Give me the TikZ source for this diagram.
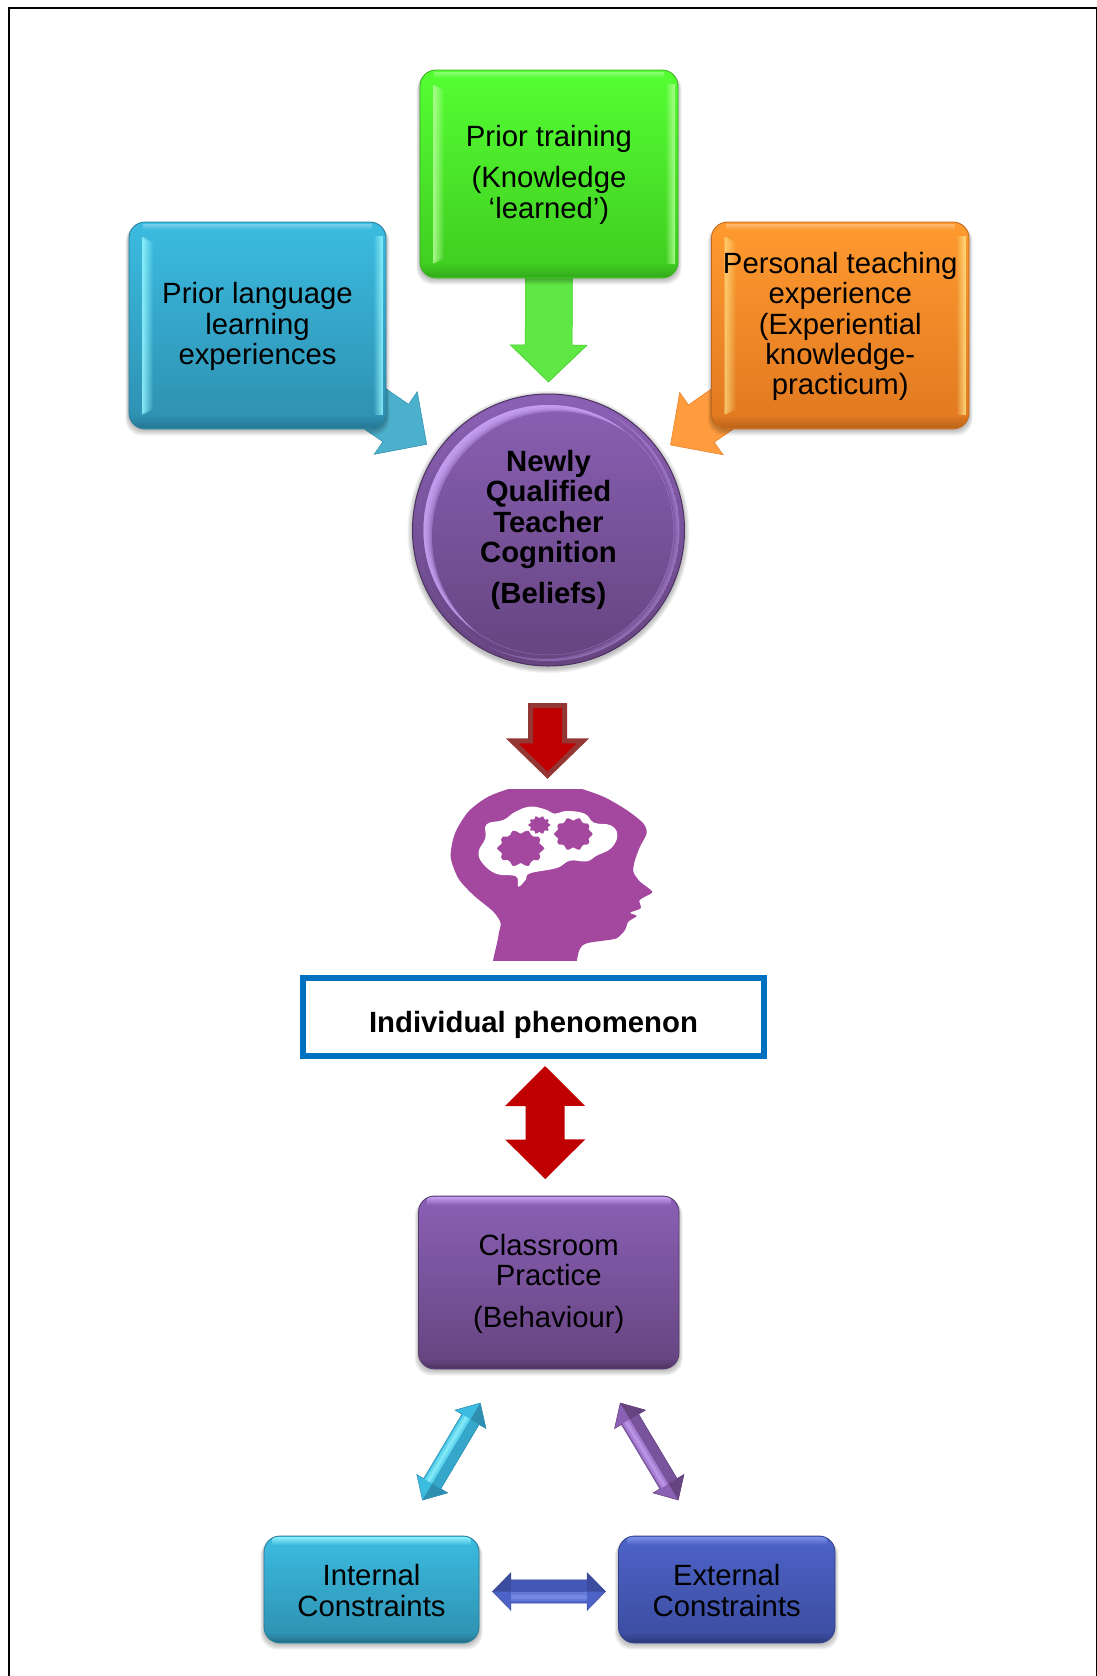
\documentclass[tikz,border=0pt]{standalone}
\usepackage{fontspec}
\setmainfont{Liberation Sans}
\usetikzlibrary{calc}
\pgfdeclarelayer{arrowlayer}
\pgfdeclarelayer{boxlayer}
\pgfsetlayers{arrowlayer,boxlayer,main}
\definecolor{greenT}{HTML}{55FF33}\definecolor{greenB}{HTML}{3FCB20}\definecolor{greenH}{HTML}{B8FF9A}\definecolor{greenA}{HTML}{5FE845}
\definecolor{blueT}{HTML}{3BBCE0}\definecolor{blueB}{HTML}{2E8FB0}\definecolor{blueH}{HTML}{96F6FF}\definecolor{blueA}{HTML}{4BB0CC}
\definecolor{oranT}{HTML}{FF9A30}\definecolor{oranB}{HTML}{E07820}\definecolor{oranH}{HTML}{FFE48A}\definecolor{oranA}{HTML}{FF9C40}
\definecolor{purpT}{HTML}{8A60B5}\definecolor{purpB}{HTML}{65447F}\definecolor{purpH}{HTML}{CBA5F7}
\definecolor{indgT}{HTML}{4D63C8}\definecolor{indgB}{HTML}{3B4C9F}\definecolor{indgH}{HTML}{8095E8}
\definecolor{headc}{HTML}{A3489E}
\definecolor{redf}{HTML}{C00000}
\definecolor{redl}{HTML}{943634}
\definecolor{framb}{HTML}{0070C0}
\tikzset{
  boxtext/.style={shape=rectangle,inner sep=0pt,outer sep=0pt,align=center,text=black,
    font=\fontsize{29.3}{30.4}\selectfont},
  boldtext/.style={boxtext,font=\fontsize{29.3}{30.4}\selectfont\bfseries},
}
% shadow, body and outline of a bevelled box; the named node carries the text
\newcommand\bevelbase[9]{%
  \node[boxtext,minimum width={#4-#2},minimum height={#5-#3}] (#1) at ({(#2+#4)/2},{(#3+#5)/2+1}) {#9};
  \begin{pgfonlayer}{boxlayer}
    \foreach \i in {1,...,5}
      \fill[black,opacity=.05,rounded corners=16] ({#2-\i*.7},{#3+3}) rectangle ({#4+\i*.7},{#5+1+\i*1.1});
    \shade[top color=#6,bottom color=#7,rounded corners=16,draw=#7!85!black,line width=.8] (#2,#3) rectangle (#4,#5);
  \end{pgfonlayer}}
% box with bright side bevels
\newcommand\bevelside[9]{%
  \bevelbase{#1}{#2}{#3}{#4}{#5}{#6}{#7}{#8}{#9}
  \begin{pgfonlayer}{boxlayer}
  \begin{scope}
    \clip[rounded corners=16] (#2+.6,#3+.6) rectangle (#4-.6,#5-.6);
    \foreach \i [evaluate=\i as \op using .85*(1-\i/11)] in {0,...,10}
      \fill[#8,opacity=\op,rounded corners=2] ({#2+13+\i},{#3+15+\i/2}) rectangle ({#2+14.2+\i},{#5-15-\i/2});
    \foreach \i [evaluate=\i as \op using .8*(1-\i/9)] in {0,...,8}
      \fill[#8,opacity=\op] ({#4-4-\i},{#3+14}) rectangle ({#4-2.8-\i},{#5-14});
    \foreach \i [evaluate=\i as \op using .018*\i] in {1,...,8}
      \fill[black,opacity=\op] ({#2},{#5-14+\i*1.4}) rectangle ({#4},{#5-12.6+\i*1.4});
    \foreach \i [evaluate=\i as \op using .3*(1-\i/6)] in {0,...,5}
      \fill[white,opacity=\op] ({#2+14},{#3+1.5+\i}) rectangle ({#4-14},{#3+2.7+\i});
  \end{scope}
  \end{pgfonlayer}}
% box with a bright top bevel
\newcommand\beveltop[9]{%
  \bevelbase{#1}{#2}{#3}{#4}{#5}{#6}{#7}{#8}{#9}
  \begin{pgfonlayer}{boxlayer}
  \begin{scope}
    \clip[rounded corners=16] (#2+.6,#3+.6) rectangle (#4-.6,#5-.6);
    \foreach \i [evaluate=\i as \op using .9*(1-\i/8)] in {0,...,7}
      \fill[#8,opacity=\op] ({#2+8},{#3+1+\i}) rectangle ({#4-8},{#3+2.2+\i});
    \foreach \i [evaluate=\i as \op using .03*\i] in {1,...,7}
      \fill[black,opacity=\op] ({#2},{#5-10+\i*1.2}) rectangle ({#4},{#5-8.8+\i*1.2});
  \end{scope}
  \end{pgfonlayer}}
% corner points of a single block arrow from #1 to #2 (half shaft #3, half head #4, head length #5)
\newcommand\singlepts[5]{%
  \coordinate (hh) at ($(#2)!#5pt!(#1)$);
  \coordinate (w1) at ($(hh)!#4pt!90:(#2)$);
  \coordinate (w2) at ($(hh)!#4pt!-90:(#2)$);
  \coordinate (n1) at ($(hh)!#3pt!90:(#2)$);
  \coordinate (n2) at ($(hh)!#3pt!-90:(#2)$);
  \coordinate (t1) at ($(#1)!#3pt!90:(#2)$);
  \coordinate (t2) at ($(#1)!#3pt!-90:(#2)$);}
% double bevelled arrow from #1 to #2: half shaft #3, half head #4, head length #5, base #6, light #7, dark #8
\newcommand\dblarrow[8]{%
  \coordinate (ha) at ($(#1)!#5pt!(#2)$);
  \coordinate (hb) at ($(#2)!#5pt!(#1)$);
  \coordinate (a1) at ($(ha)!#4pt!90:(#2)$);
  \coordinate (a2) at ($(ha)!#4pt!-90:(#2)$);
  \coordinate (b1) at ($(hb)!#4pt!-90:(#1)$);
  \coordinate (b2) at ($(hb)!#4pt!90:(#1)$);
  \coordinate (c1) at ($(ha)!#3pt!90:(#2)$);
  \coordinate (c2) at ($(ha)!#3pt!-90:(#2)$);
  \coordinate (d1) at ($(hb)!#3pt!-90:(#1)$);
  \coordinate (d2) at ($(hb)!#3pt!90:(#1)$);
  \coordinate (e1) at ($(ha)!0.05*#3pt!-90:(#2)$);
  \coordinate (e2) at ($(ha)!0.85*#3pt!-90:(#2)$);
  \coordinate (f1) at ($(hb)!0.05*#3pt!90:(#1)$);
  \coordinate (f2) at ($(hb)!0.85*#3pt!90:(#1)$);
  \coordinate (g1) at ($(ha)!0.3*#3pt!-90:(#2)$);
  \coordinate (g2) at ($(ha)!0.62*#3pt!-90:(#2)$);
  \coordinate (k1) at ($(hb)!0.3*#3pt!90:(#1)$);
  \coordinate (k2) at ($(hb)!0.62*#3pt!90:(#1)$);
  \fill[black,opacity=.12,shift={(1.5,3)}] (#1)--(a1)--(c1)--(d1)--(b1)--(#2)--(b2)--(d2)--(c2)--(a2)--cycle;
  \fill[black,opacity=.10,shift={(1,1.5)}] (#1)--(a1)--(c1)--(d1)--(b1)--(#2)--(b2)--(d2)--(c2)--(a2)--cycle;
  \fill[#6,draw=#8,line width=.5] (#1)--(a1)--(c1)--(d1)--(b1)--(#2)--(b2)--(d2)--(c2)--(a2)--cycle;
  \fill[#8] (#1)--(a1)--(ha)--cycle;
  \fill[#8] (#2)--(b1)--(hb)--cycle;
  \fill[#8,opacity=.45] (c1)--(d1)--(hb)--(ha)--cycle;
  \fill[#7,opacity=.45] (e1)--(e2)--(f2)--(f1)--cycle;
  \fill[#7,opacity=.55] (g1)--(g2)--(k2)--(k1)--cycle;}
\begin{document}
\begin{tikzpicture}[x=1pt,y=-1pt]
\useasboundingbox (0,0) rectangle (1097,1676);
\begin{pgfonlayer}{arrowlayer}
  \fill[white] (0,0) rectangle (1097,1676);
\end{pgfonlayer}
\draw[black,line width=2,line join=miter] (9,1676) -- (9,8) -- (1096.5,8) -- (1096.5,1676);

% boxes
\bevelside{green}{420}{70}{678}{278}{greenT}{greenB}{greenH}{Prior training\\[10.5pt](Knowledge\\‘learned’)}
\bevelside{blue}{129}{222}{386}{429}{blueT}{blueB}{blueH}{Prior language\\learning\\experiences}
\bevelside{orange}{711.5}{222}{969}{429}{oranT}{oranB}{oranH}{Personal teaching\\experience\\(Experiential\\knowledge-\\practicum)}
\beveltop{classroom}{418.5}{1196}{679}{1369}{purpT}{purpB}{purpH}{Classroom\\Practice\\[11pt](Behaviour)}
\beveltop{internal}{264}{1536}{479}{1643}{blueT}{blueB}{blueH}{Internal\\Constraints}
\beveltop{external}{618.5}{1536}{835}{1643}{indgT}{indgB}{indgH}{External\\Constraints}

% central circle
\node[boldtext,shape=circle,minimum size=272] (beliefs) at (548.5,530) {Newly\\Qualified\\Teacher\\Cognition\\[11pt](Beliefs)};
\begin{pgfonlayer}{boxlayer}
  \foreach \i in {1,...,5}
    \fill[black,opacity=.05] ($(beliefs.center)+(0,2)$) circle ({136+\i});
  \shade[top color=purpT,bottom color=purpB,draw=purpB!75!black,line width=1] (beliefs.center) circle (136);
  \begin{scope}
    \clip (beliefs.center) circle (125);
    \foreach \s in {3,5.5,8,10.5}
      \fill[purpH,opacity=.42,even odd rule] (beliefs.center) circle (125) ($(beliefs.center)+({\s*.8},{\s*.6})$) circle (125);
  \end{scope}
  \begin{scope}
    \clip (beliefs.center) circle (131);
    \foreach \s in {2,4,6}
      \fill[purpH,opacity=.16,even odd rule] (beliefs.center) circle (131) ($(beliefs.center)+({-\s*.9},{-\s*.45})$) circle (131);
  \end{scope}
\end{pgfonlayer}

% single block arrows
\begin{pgfonlayer}{arrowlayer}
  \singlepts{$(green.south)+(0,-10)$}{$(beliefs.north)+(0,-12)$}{23.5}{38.5}{37}
  \fill[greenA,draw=greenB,line width=.5] (t1)--(n1)--(w1)--($(beliefs.north)+(0,-12)$)--(w2)--(n2)--(t2)--cycle;
  \singlepts{$(blue.south east)+(-31,-35)$}{$(blue.south east)+(40.7,14.3)$}{22.7}{38}{37.6}
  \fill[black,opacity=.14,shift={(-1,3)}] (t1)--(n1)--(w1)--($(blue.south east)+(40.7,14.3)$)--(w2)--(n2)--(t2)--cycle;
  \fill[blueA,draw=blueB,line width=.5] (t1)--(n1)--(w1)--($(blue.south east)+(40.7,14.3)$)--(w2)--(n2)--(t2)--cycle;
  \singlepts{$(orange.south west)+(31,-35)$}{$(orange.south west)+(-41,15)$}{22.7}{38}{37.6}
  \fill[black,opacity=.12,shift={(1,3)}] (t1)--(n1)--(w1)--($(orange.south west)+(-41,15)$)--(w2)--(n2)--(t2)--cycle;
  \fill[oranA,draw=oranB!70!oranT,line width=.5] (t1)--(n1)--(w1)--($(orange.south west)+(-41,15)$)--(w2)--(n2)--(t2)--cycle;
\end{pgfonlayer}

% head with thought cloud and gears
\node[inner sep=0pt,minimum width=203,minimum height=172] (headicon) at (551.5,876) {};
\begin{scope}[shift={(430,780)},x=.3333pt,y=-.3333pt]
  \begin{scope}
    \clip (0,29) rectangle (720,541);
    \fill[headc] plot[smooth cycle,tension=.45] coordinates {(192,620)(205,470)(212,430)(190,395)(130,345)(85,295)(62,230)(75,160)(115,95)(175,50)(260,20)(340,14)(430,20)(520,50)(590,90)(640,130)(650,160)(630,200)(615,240)(610,275)(630,305)(667,335)(645,350)(628,362)(632,385)(600,398)(620,408)(595,425)(585,450)(560,475)(520,482)(470,490)(448,510)(405,620)};
  \end{scope}
  \fill[white] plot[smooth cycle,tension=.7] coordinates {(146,215)(166,175)(170,133)(220,120)(255,96)(300,80)(345,88)(375,101)(410,93)(464,101)(492,128)(542,136)(562,165)(544,204)(500,227)(470,244)(420,242)(380,264)(300,280)(288,298)(265,320)(258,289)(200,282)(158,250)};
  \fill[headc] plot[smooth cycle,tension=.6,domain=0:350,samples=36] ({272+(65+6*cos(10*\x))*cos(\x)},{205+(50+6*cos(10*\x))*sin(\x)});
  \fill[headc] plot[smooth cycle,tension=.6,domain=0:350,samples=36] ({430+(53+5*cos(10*\x))*cos(\x)},{162+(45+5*cos(10*\x))*sin(\x)});
  \fill[headc] plot[smooth cycle,tension=.6,domain=0:350,samples=36] ({328+(30+4*cos(10*\x))*cos(\x)},{135+(24+4*cos(10*\x))*sin(\x)});
\end{scope}

% individual phenomenon frame
\node[boldtext,draw=framb,line width=5.5,minimum width=461,minimum height=78,outer sep=0pt,text height=30pt,text depth=0pt] (phen) at (533.5,1017) {Individual phenomenon};

% red arrows
\singlepts{$(beliefs.south)+(-1,39.5)$}{$(headicon.north)+(-4,-14.5)$}{17}{35.5}{34.5}
\filldraw[fill=redf,draw=redl,line width=5,line join=miter] (t1)--(n1)--(w1)--($(headicon.north)+(-4,-14.5)$)--(w2)--(n2)--(t2)--cycle;
\coordinate (rd1) at ($(phen.south)+(11.5,10)$);
\coordinate (rd2) at ($(classroom.north)+(-3.5,-18)$);
\coordinate (rd3) at ($(rd1)!40pt!(rd2)$);
\coordinate (rd4) at ($(rd2)!39.5pt!(rd1)$);
\fill[redf] (rd1) -- ($(rd3)!40pt!90:(rd2)$) -- ($(rd3)!19.5pt!90:(rd2)$) -- ($(rd4)!19.5pt!-90:(rd1)$) -- ($(rd4)!40pt!-90:(rd1)$) -- (rd2) -- ($(rd4)!40pt!90:(rd1)$) -- ($(rd4)!19.5pt!90:(rd1)$) -- ($(rd3)!19.5pt!-90:(rd2)$) -- ($(rd3)!40pt!-90:(rd2)$) -- cycle;

% bevelled double arrows
\dblarrow{$(classroom.south)+(-68.5,33)$}{$(internal.north)+(51,-37)$}{10}{18}{19}{blueT}{blueH}{blueB}
\dblarrow{$(classroom.south)+(71.5,33)$}{$(external.north)+(-48.5,-37)$}{10}{18}{19}{purpT}{purpH}{purpB}
\dblarrow{$(internal.east)+(13.5,1)$}{$(external.west)+(-13,1)$}{11.7}{18.8}{18.4}{indgT}{indgH}{indgB}
\end{tikzpicture}
\end{document}
